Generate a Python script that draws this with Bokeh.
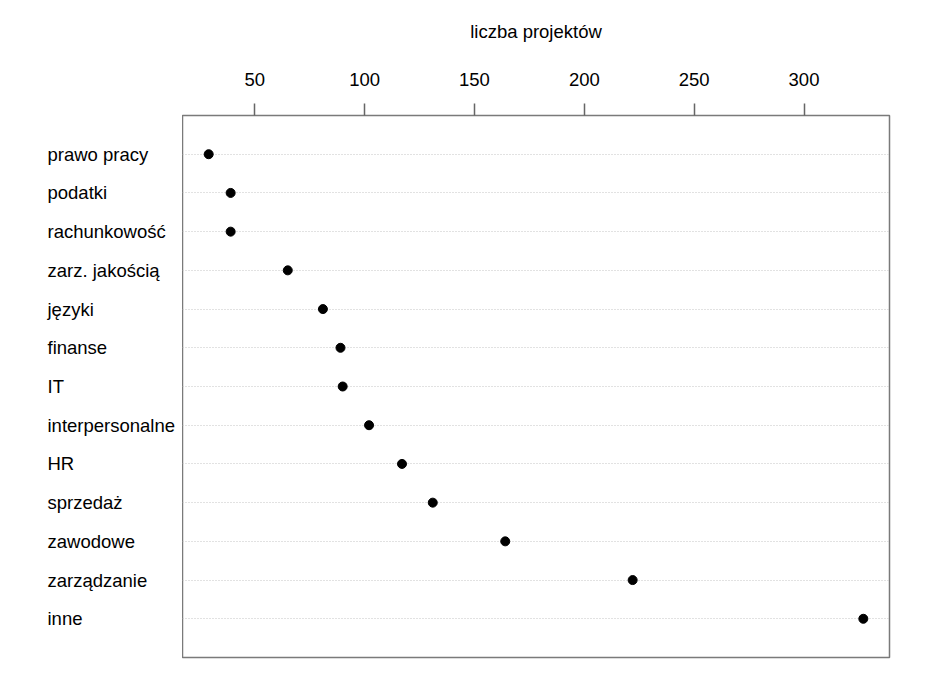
from bokeh.plotting import figure
from bokeh.layouts import row
from bokeh.models import ColumnDataSource, FixedTicker, Range1d
from bokeh.core.properties import value
from bokeh.embed import file_html
from bokeh.resources import INLINE

categories = ["prawo pracy", "podatki", "rachunkowość", "zarz. jakością", "języki",
              "finanse", "IT", "interpersonalne", "HR", "sprzedaż", "zawodowe",
              "zarządzanie", "inne"]
values = [29, 39, 39, 65, 81, 89, 90, 102, 117, 131, 164, 222, 327]
x_ticks = [50, 100, 150, 200, 250, 300]
x_label = "liczba projektów"

positions = list(range(1, len(categories) + 1))
vmin, vmax = min(values), max(values)
pad = 0.04 * (vmax - vmin)

FONT = "Liberation Sans"
FS = "18.5px"
H = 668
TOP, BOTTOM = 115, 11
LEFT_W = 182

y_range = Range1d(len(categories) + 1, 0)
src = ColumnDataSource(dict(x=values, y=positions, name=categories))

# label column (left)
lab = figure(width=LEFT_W, height=H, output_backend="svg", toolbar_location=None,
             x_range=Range1d(0, LEFT_W), y_range=y_range,
             x_axis_location=None, y_axis_location=None,
             min_border_left=0, min_border_right=0,
             min_border_top=TOP, min_border_bottom=BOTTOM)
lab.outline_line_color = None
lab.grid.visible = False
lab.background_fill_color = "white"
lab.border_fill_color = "white"
lab.text(x=47, y="y", text="name", source=src, text_align="left",
         text_baseline="middle", text_font=value(FONT),
         text_font_size=value(FS), text_color="black")

# main dot chart
p = figure(width=930 - LEFT_W, height=H, output_backend="svg", toolbar_location=None,
           x_range=Range1d(vmin - pad, vmax + pad), y_range=y_range,
           x_axis_location="above",
           min_border_left=0, min_border_right=41,
           min_border_top=TOP, min_border_bottom=BOTTOM)
p.background_fill_color = "white"
p.border_fill_color = "white"
p.outline_line_color = "#7a7a7a"
p.outline_line_width = 1.5

xa = p.xaxis[0]
xa.ticker = FixedTicker(ticks=x_ticks)
xa.axis_line_color = None
xa.major_tick_out = 12
xa.major_tick_in = 0
xa.minor_tick_line_color = None
xa.major_tick_line_color = "#666666"
xa.major_tick_line_width = 1.5
xa.major_label_text_font = FONT
xa.major_label_text_font_size = FS
xa.major_label_text_color = "black"
xa.major_label_standoff = 18
xa.axis_label = x_label
xa.axis_label_text_font = FONT
xa.axis_label_text_font_size = FS
xa.axis_label_text_font_style = "normal"
xa.axis_label_text_color = "black"
xa.axis_label_standoff = 28

p.yaxis.visible = False
p.xgrid.grid_line_color = None
p.ygrid.ticker = FixedTicker(ticks=positions)
p.ygrid.grid_line_color = "#c4c4c4"
p.ygrid.grid_line_dash = "1 2"
p.ygrid.grid_line_width = 1

p.scatter("x", "y", source=src, size=9, color="black")

layout = row(lab, p, spacing=0)
open("out.html", "w").write(file_html(layout, INLINE))
